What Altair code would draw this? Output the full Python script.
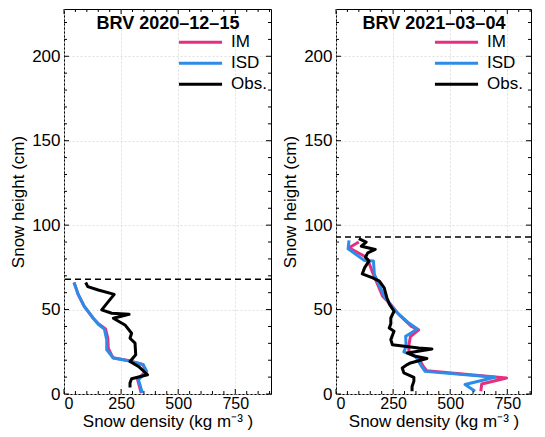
import altair as alt
import pandas as pd

# ---- data (density kg m-3, height cm) ----
series_names = ["IM", "ISD", "Obs."]
series_colors = ["#E4307E", "#2B8DE8", "#000000"]

titles = ["BRV 2020–12–15", "BRV 2021–03–04"]
snow_depth = [68, 93]

# 2020-12-15
im1_d = [44, 62, 88, 127, 152, 182, 192, 194, 214, 280, 345, 358, 322, 338]
im1_h = [66, 59, 52, 45, 41.5, 38.5, 33, 27, 21.5, 19.8, 17.5, 13.5, 8.6, 0.6]
isd1_d = [44, 63, 89, 128, 150, 177, 187, 187, 216, 282, 347, 362, 326, 343]
isd1_h = [66, 58.7, 51.8, 44.9, 41.3, 38.4, 32, 26.2, 21.3, 19.7, 17.3, 13.4, 8.5, 0.6]
obs1_d = [95, 104, 150, 220, 194, 165, 209, 285, 216, 267, 296, 289, 311, 314, 289, 326, 366, 296, 289, 289]
obs1_h = [66, 63.6, 61.6, 59, 54.7, 49.8, 47.8, 47.2, 44.9, 40.9, 36, 33, 30.1, 23.2, 19.3, 16.3, 11.4, 9, 6.5, 3.9]

# 2021-03-04
im2_d = [100, 57, 125, 139, 161, 204, 233, 276, 330, 362, 326, 318, 320, 362, 384, 397, 747, 638, 634]
im2_h = [90, 86.6, 81.6, 79.6, 71.7, 57.9, 54, 47, 40, 38, 34, 28.3, 24.3, 21, 16, 13.8, 9.5, 5.9, 1.6]
isd2_d = [57, 53, 125, 164, 168, 211, 261, 319, 355, 330, 305, 307, 297, 348, 376, 390, 696, 565, 609]
isd2_h = [91, 86, 79, 78.7, 70.8, 58, 49, 42, 38.7, 36.2, 34.2, 28.3, 24.9, 22.3, 16, 13.4, 9.9, 5.6, 1.6]
obs2_d = [100, 132, 111, 172, 139, 129, 144, 125, 115, 161, 190, 211, 223, 233, 254, 240, 240, 233, 254,
          240, 247, 362, 420, 312, 348, 398, 326, 312, 290, 297, 341, 341, 333, 333]
obs2_h = [92, 90, 87.5, 85.6, 83.6, 81, 78.7, 74.7, 71.1, 68.8, 66.8, 62.8, 56.9, 53.4, 49, 45, 41.5, 39.1, 37.2,
          32.2, 29.2, 27.3, 26.7, 24.3, 22.3, 21, 18.4, 17.4, 15.4, 12.5, 9.9, 7.5, 4.5, 1.6]

x_major = [0, 250, 500, 750]
x_minor = [50, 100, 150, 200, 300, 350, 400, 450, 550, 600, 650, 700, 800, 850, 900]
y_major = [0, 50, 100, 150, 200]
y_minor = [10, 20, 30, 40, 60, 70, 80, 90, 110, 120, 130, 140, 160, 170, 180, 190, 210, 220]

FONT = "Liberation Sans"
H = 385
PX_PER_UNIT = 0.2284
y_axis = alt.Axis(values=y_major, title="Snow height (cm)", titlePadding=4.5, labelPadding=4,
                  labelFontSize=17, titleFontSize=17)
x_axis = alt.Axis(values=x_major, title="Snow density (kg  m⁻³ )", titlePadding=2, labelPadding=1,
                  labelFontSize=16, titleFontSize=17)
ys = alt.Scale(domain=[0, 228], nice=False, zero=False)


def make_df(parts):
    rows = []
    for name, ds, hs in parts:
        for i, (d, h) in enumerate(zip(ds, hs)):
            rows.append({"s": name, "d": d, "h": h, "i": i})
    return pd.DataFrame(rows)


def panel(title, depth, parts, W, legend_x):
    xmax = W / PX_PER_UNIT
    xs = alt.Scale(domain=[0, xmax], nice=False, zero=False)
    top_axis = alt.Axis(orient="top", values=x_major, labels=False, ticks=False, domain=False, grid=False,
                        title=title, titleFont=FONT, titleFontSize=18, titleFontWeight="bold",
                        titleColor="black", titleX=W / 2, titleY=19, titleAlign="center",
                        titleBaseline="alphabetic", titleAngle=0)

    def X(axis=None):
        return alt.X("d:Q", scale=xs, axis=axis)

    def Y():
        return alt.Y("h:Q", scale=ys, axis=y_axis)

    df = make_df(parts)
    lines = alt.Chart(df).mark_line(strokeWidth=3, strokeJoin="round", clip=True).encode(
        x=X(x_axis),
        y=Y(),
        color=alt.Color("s:N", scale=alt.Scale(domain=series_names, range=series_colors),
                        legend=alt.Legend(orient="none", legendX=legend_x, legendY=23, title=None,
                                          symbolType="stroke", symbolStrokeWidth=3, symbolSize=1860,
                                          labelFontSize=17, labelFont=FONT, labelColor="black",
                                          clipHeight=20.5, labelOffset=7, rowPadding=0, padding=0)),
        order=alt.Order("i:Q"),
    )
    rule = alt.Chart(pd.DataFrame({"h": [depth]})).mark_rule(
        color="black", strokeDash=[6, 4], strokeWidth=1.5).encode(y=Y())

    ticks = []
    for vals, L in [(y_major, 5), (y_minor, 3)]:
        base = alt.Chart(pd.DataFrame({"h": vals})).mark_rule(color="black", strokeWidth=1)
        ticks.append(base.encode(y=Y(), x=alt.value(0), x2=alt.value(L)))
        ticks.append(base.encode(y=Y(), x=alt.value(W), x2=alt.value(W - L)))
    for vals, L, ax in [(x_major, 5, top_axis), (x_minor, 3, None)]:
        vals = [v for v in vals if v <= xmax]
        base = alt.Chart(pd.DataFrame({"d": vals})).mark_rule(color="black", strokeWidth=1)
        ticks.append(base.encode(x=X(), y=alt.value(H), y2=alt.value(H - L)))
        ticks.append(base.encode(x=X(ax), y=alt.value(0), y2=alt.value(L)))

    return alt.layer(lines, rule, *ticks).resolve_axis(x="independent").properties(width=W, height=H)


p1 = panel(titles[0], snow_depth[0], [("IM", im1_d, im1_h), ("ISD", isd1_d, isd1_h), ("Obs.", obs1_d, obs1_h)],
           207, 113)
p2 = panel(titles[1], snow_depth[1], [("IM", im2_d, im2_h), ("ISD", isd2_d, isd2_h), ("Obs.", obs2_d, obs2_h)],
           195, 97)

chart = alt.hconcat(p1, p2, spacing=7).resolve_scale(color="independent").resolve_legend(
    color="independent").properties(padding=0).configure_view(
    stroke="black", strokeWidth=1).configure_axis(
    labelFont=FONT, labelColor="black", titleFont=FONT,
    titleFontWeight="normal", titleColor="black", domain=False, ticks=False,
    grid=True, gridColor="#d8d8d8", gridDash=[2, 2], gridWidth=0.8)

chart.save("out.html", embed_options={"renderer": "svg", "actions": False})
